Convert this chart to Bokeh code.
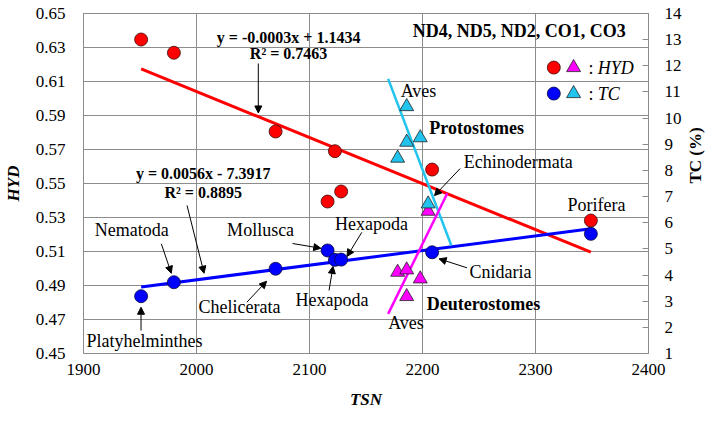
import numpy as np
from bokeh.plotting import figure
from bokeh.models import Range1d, LinearAxis, FixedTicker, Arrow, NormalHead, Label
from bokeh.embed import file_html
from bokeh.resources import INLINE

# ---------------- data ----------------
taxa = ["Platyhelminthes", "Nematoda", "Chelicerata", "Mollusca",
        "Hexapoda", "Hexapoda", "Cnidaria", "Porifera"]
proto_tsn = [1951, 1980, 2070, 2116, 2122.5, 2128, 2208.5, 2349]
proto_hyd = [0.6347, 0.6269, 0.5806, 0.5394, 0.5690, 0.5453, 0.5582, 0.5282]
proto_tc = [3.19, 3.725, 4.24, 4.94, 4.58, 4.59, 4.87, 5.575]

deut_tsn = [2178, 2186, 2186, 2198, 2205]
deut_hyd = [0.4978, 0.4835, 0.4992, 0.4939, 0.5337]
deut_tc = [8.47, 10.44, 9.08, 9.25, 6.72]

# trendlines of the deuterostome series as drawn in the picture
deut_tc_trend_tsn = [2169.6, 2225.5]
deut_tc_trend_tc = [11.5, 5.13]
deut_hyd_trend_tsn = [2169.6, 2222.0]
deut_hyd_trend_hyd = [0.4733, 0.5443]

x_ticks = [1900, 2000, 2100, 2200, 2300, 2400]
hyd_ticks = [round(0.45 + 0.02 * i, 2) for i in range(11)]
tc_ticks = list(range(1, 15))

FONT = "serif"
RED = "#FF0000"
BLUE = "#0000FF"
MAG = "#FF00FF"
CYAN = "#22C4EE"
GRID = "#8C8C8C"

p = figure(width=717, height=422, output_backend="svg", toolbar_location=None,
           x_range=Range1d(1900, 2400), y_range=Range1d(0.45, 0.65),
           min_border_left=81, min_border_right=63, min_border_top=13,
           min_border_bottom=69)
p.extra_y_ranges = {"tc": Range1d(1, 14)}
p.background_fill_color = "white"
p.border_fill_color = "white"
p.outline_line_color = GRID
p.outline_line_width = 1

# axes
p.xaxis.ticker = FixedTicker(ticks=x_ticks)
p.yaxis.ticker = FixedTicker(ticks=hyd_ticks)
for ax in (p.xaxis[0], p.yaxis[0]):
    ax.major_tick_out = 0
    ax.major_tick_in = 0
    ax.minor_tick_out = 0
    ax.minor_tick_in = 0
    ax.axis_line_color = GRID
    ax.major_label_text_font = FONT
    ax.major_label_text_font_size = "17px"
    ax.major_label_text_color = "black"
    ax.axis_label_text_font = FONT
    ax.axis_label_text_font_size = "17px"
    ax.axis_label_text_font_style = "bold italic"
    ax.axis_label_text_color = "black"
p.xaxis.axis_label = "TSN"
p.xaxis.major_label_standoff = 10
p.xaxis.axis_label_standoff = 12
p.yaxis.axis_label = "HYD"
p.yaxis.major_label_standoff = 18
p.yaxis.axis_label_standoff = 10

rax = LinearAxis(y_range_name="tc", ticker=FixedTicker(ticks=tc_ticks),
                 axis_label="TC (%)")
rax.major_tick_out = 0
rax.major_tick_in = 6
rax.major_tick_line_color = GRID
rax.minor_tick_out = 0
rax.minor_tick_in = 0
rax.axis_line_color = GRID
rax.major_label_text_font = FONT
rax.major_label_text_font_size = "17px"
rax.major_label_text_color = "black"
rax.major_label_standoff = 16
rax.axis_label_text_font = FONT
rax.axis_label_text_font_size = "17px"
rax.axis_label_text_font_style = "bold"
rax.axis_label_text_color = "black"
rax.axis_label_standoff = 11
if "axis_label_orientation" in rax.properties():
    rax.axis_label_orientation = float(np.pi / 2)
p.add_layout(rax, "right")

p.xgrid.ticker = FixedTicker(ticks=x_ticks)
p.ygrid.ticker = FixedTicker(ticks=hyd_ticks)
p.xgrid.grid_line_color = GRID
p.ygrid.grid_line_color = GRID
p.xgrid.grid_line_width = 1
p.ygrid.grid_line_width = 1

# ---------------- trendlines ----------------
xs = np.array(proto_tsn, dtype=float)
k_h, b_h = np.polyfit(xs, np.array(proto_hyd), 1)
k_t, b_t = np.polyfit(xs, np.array(proto_tc), 1)
xl = np.array([xs.min(), xs.max()])
p.line(xl, k_h * xl + b_h, line_color=RED, line_width=3)
p.line(xl, k_t * xl + b_t, line_color=BLUE, line_width=3, y_range_name="tc")
p.line(deut_tc_trend_tsn, deut_tc_trend_tc, line_color=CYAN, line_width=2.5,
       y_range_name="tc")
p.line(deut_hyd_trend_tsn, deut_hyd_trend_hyd, line_color=MAG, line_width=2.5)

# ---------------- markers ----------------
p.scatter(proto_tsn, proto_hyd, marker="circle", size=13, fill_color=RED,
          line_color="#3a0a0a", line_width=0.8)
p.scatter(proto_tsn, proto_tc, marker="circle", size=13, fill_color=BLUE,
          line_color="#0a0a3a", line_width=0.8, y_range_name="tc")
p.scatter(deut_tsn, deut_hyd, marker="triangle", size=14, fill_color=MAG,
          line_color="#222222", line_width=0.8)
p.scatter(deut_tsn, deut_tc, marker="triangle", size=14, fill_color=CYAN,
          line_color="#222222", line_width=0.8, y_range_name="tc")

# legend keys
p.scatter([2316.2], [0.6182], marker="circle", size=13, fill_color=RED,
          line_color="#3a0a0a", line_width=0.8)
p.scatter([2333.7], [0.6182], marker="triangle", size=14, fill_color=MAG,
          line_color="#222222", line_width=0.8)
p.scatter([2316.2], [0.6029], marker="circle", size=13, fill_color=BLUE,
          line_color="#0a0a3a", line_width=0.8)
p.scatter([2333.7], [0.6029], marker="triangle", size=14, fill_color=CYAN,
          line_color="#222222", line_width=0.8)


def lab(x, y, text, size="18px", style="normal", align="left"):
    p.add_layout(Label(x=x, y=y, text=text, text_font=FONT,
                       text_font_size=size, text_font_style=style,
                       text_align=align, text_baseline="middle",
                       text_color="black"))


def arr(x0, y0, x1, y1):
    p.add_layout(Arrow(end=NormalHead(size=7, fill_color="black",
                                      line_color="black"),
                       x_start=x0, y_start=y0, x_end=x1, y_end=y1,
                       line_color="black", line_width=1))


# equations
lab(2081.5, 0.6361, "y = -0.0003x + 1.1434", "16px", "bold", "center")
lab(2081.5, 0.6263, "R² = 0.7463", "16px", "bold", "center")
lab(2005.9, 0.5557, "y = 0.0056x - 7.3917", "16px", "bold", "center")
lab(2005.9, 0.5449, "R² = 0.8895", "16px", "bold", "center")
lab(2191.4, 0.6400, "ND4, ND5, ND2, CO1, CO3", "18px", "bold")
lab(2346.8, 0.6182, ":", "18px")
lab(2355.0, 0.6182, "HYD", "18px", "italic")
lab(2346.8, 0.6029, ":", "18px")
lab(2355.0, 0.6029, "TC", "18px", "italic")

# taxon labels
lab(2180.7, 0.6047, "Aves")
lab(2206.0, 0.5825, "Protostomes", style="bold")
lab(2236.6, 0.5629, "Echinodermata")
lab(2328.4, 0.5371, "Porifera")
lab(2122.5, 0.5259, "Hexapoda")
lab(2087.6, 0.4812, "Hexapoda")
lab(2027.1, 0.5229, "Mollusca")
lab(1909.9, 0.5224, "Nematoda")
lab(2001.8, 0.4772, "Chelicerata")
lab(1902.6, 0.4576, "Platyhelminthes")
lab(2241.5, 0.4978, "Cnidaria")
lab(2203.7, 0.4792, "Deuterostomes", style="bold")
lab(2169.6, 0.4678, "Aves")

# arrows
arr(2054.7, 0.6206, 2054.7, 0.5915)
arr(1991.6, 0.5371, 2006.7, 0.4972)
arr(1968.9, 0.5145, 1977.7, 0.4972)
arr(2085.0, 0.5147, 2110.0, 0.5119)
arr(2146.3, 0.5213, 2133.2, 0.5071)
arr(2117.3, 0.4871, 2120.8, 0.5012)
arr(2044.6, 0.4802, 2062.0, 0.4925)
arr(1950.9, 0.4635, 1950.9, 0.4772)
arr(2239.4, 0.5004, 2214.7, 0.5057)
arr(2233.3, 0.5588, 2210.6, 0.5429)

open("out.html", "w").write(file_html(p, INLINE))
